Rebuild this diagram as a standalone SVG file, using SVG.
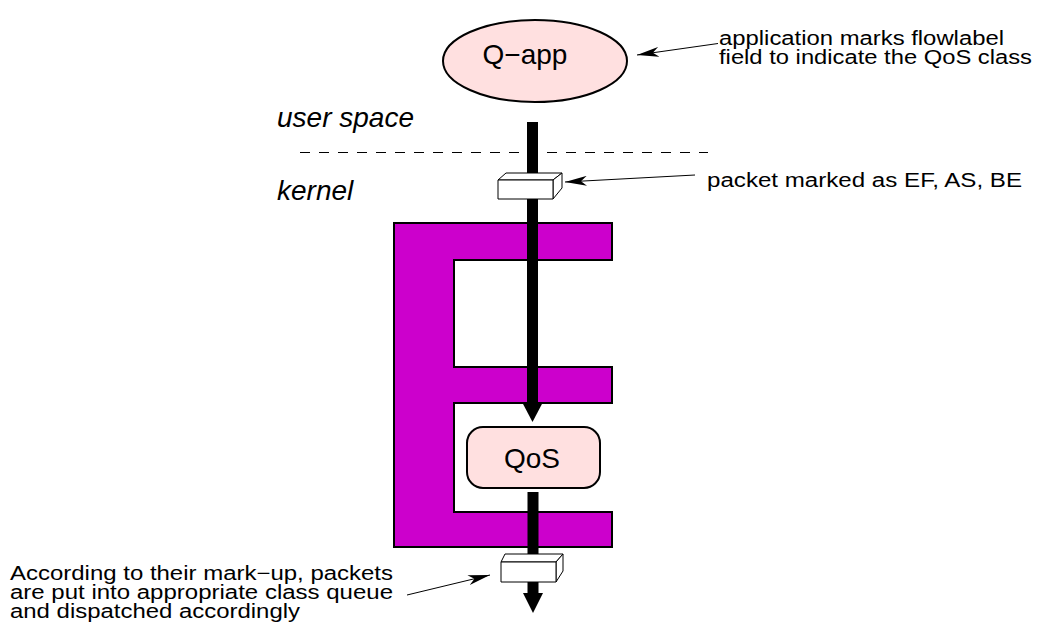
<svg xmlns="http://www.w3.org/2000/svg" width="1037" height="637" viewBox="0 0 1037 637">
<style>
.t{font-family:"Liberation Sans",Arial,sans-serif;font-size:20px;fill:#000}
.big{font-family:"Liberation Sans",Arial,sans-serif;font-size:28px;fill:#000}
.it{font-family:"Liberation Sans",Arial,sans-serif;font-size:28px;font-style:italic;fill:#000}
.thin{stroke:#000;stroke-width:1;fill:none}
.thick{stroke:#000;stroke-width:11;fill:none}
.box{fill:#fff;stroke:#000;stroke-width:1;stroke-linejoin:round}
.pink{fill:#ffe0e0;stroke:#000;stroke-width:2}
</style>
<defs>
<marker id="barb" viewBox="0 0 22 10" refX="22" refY="5" markerWidth="22" markerHeight="10" markerUnits="userSpaceOnUse" orient="auto">
<path d="M0,0 L22,5 L0,10 L6,5 Z" fill="#000"/>
</marker>
</defs>
<g id="E-shape">
<path d="M394,223 H612 V260 H454 V367 H612 V403 H454 V512 H612 V547 H394 Z" fill="#cc00cc" stroke="#000" stroke-width="2"/>
</g>
<g id="user-space-label"><text class="it" x="277" y="127">user space</text></g>
<g id="kernel-label"><text class="it" x="277" y="200">kernel</text></g>
<g id="divider"><line x1="300" y1="152.5" x2="708" y2="152.5" stroke="#000" stroke-width="1" stroke-dasharray="10,9"/></g>
<g id="connectors">
<line class="thick" x1="532.5" y1="122" x2="532.5" y2="404"/>
<path d="M522,402 L543,402 L532.5,422 Z" fill="#000"/>
<line class="thick" x1="533" y1="492" x2="533" y2="595"/>
<path d="M523,593 L543,593 L533,613 Z" fill="#000"/>
<line class="thin" x1="718" y1="43.5" x2="637" y2="55" marker-end="url(#barb)"/>
<line class="thin" x1="695" y1="175" x2="565" y2="182" marker-end="url(#barb)"/>
<line class="thin" x1="407" y1="595" x2="490" y2="575" marker-end="url(#barb)"/>
</g>
<g id="Q-app">
<ellipse class="pink" cx="535" cy="61" rx="92" ry="41"/>
<text class="big" x="525" y="64" text-anchor="middle">Q−app</text>
</g>
<g id="packet-top">
<path class="box" d="M498,180 L506,173 L562,173 L553,180 Z"/>
<path class="box" d="M553,180 L562,173 L562,188 L553,199 Z"/>
<rect class="box" x="498" y="180" width="55" height="19"/>
</g>
<g id="QoS">
<rect class="pink" x="467" y="427" width="133" height="61" rx="16" ry="16"/>
<text class="big" x="532" y="468" text-anchor="middle">QoS</text>
</g>
<g id="packet-bottom">
<path class="box" d="M501,562 L505,554 L563,554 L556,562 Z"/>
<path class="box" d="M556,562 L563,554 L563,571 L556,582 Z"/>
<rect class="box" x="501" y="562" width="55" height="20"/>
</g>
<g id="note-app">
<text class="t" x="719" y="45" textLength="285" lengthAdjust="spacingAndGlyphs">application marks flowlabel</text>
<text class="t" x="719" y="64" textLength="313" lengthAdjust="spacingAndGlyphs">field to indicate the QoS class</text>
</g>
<g id="note-packet">
<text class="t" x="707" y="187" textLength="315" lengthAdjust="spacingAndGlyphs">packet marked as EF, AS, BE</text>
</g>
<g id="note-queue">
<text class="t" x="10" y="580" textLength="383" lengthAdjust="spacingAndGlyphs">According to their mark−up, packets</text>
<text class="t" x="10" y="599" textLength="383" lengthAdjust="spacingAndGlyphs">are put into appropriate class queue</text>
<text class="t" x="10" y="618" textLength="290" lengthAdjust="spacingAndGlyphs">and dispatched accordingly</text>
</g>
</svg>
